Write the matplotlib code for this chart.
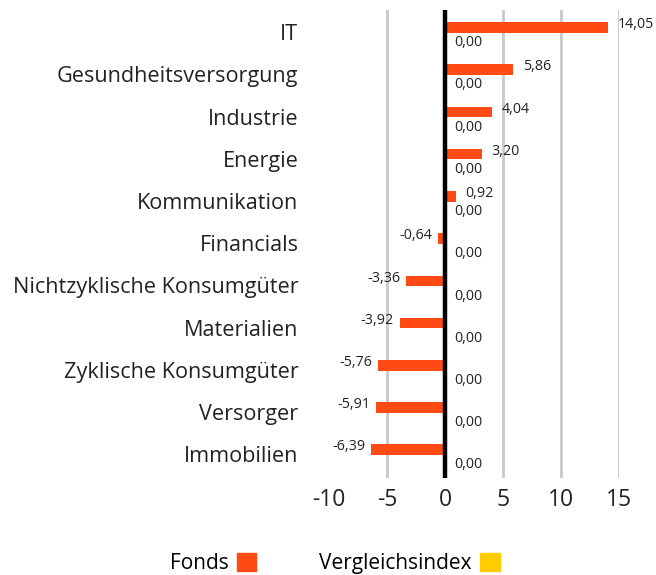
import numpy as np
import matplotlib
matplotlib.use("Agg")
import matplotlib.pyplot as plt
import matplotlib.transforms as mtrans
from matplotlib.patches import Patch

categories = ["IT", "Gesundheitsversorgung", "Industrie", "Energie", "Kommunikation",
              "Financials", "Nichtzyklische Konsumgüter", "Materialien",
              "Zyklische Konsumgüter", "Versorger", "Immobilien"]
fonds = [14.05, 5.86, 4.04, 3.20, 0.92, -0.64, -3.36, -3.92, -5.76, -5.91, -6.39]
index = [0.00] * 11
series_names = ["Fonds", "Vergleichsindex"]
xticks = [-10, -5, 0, 5, 10, 15]

ORANGE = "#FF4A14"
YELLOW = "#FFCC00"
FONT = "Open Sans"

plt.rcParams["font.family"] = [FONT, "DejaVu Sans"]

fig = plt.figure(figsize=(6.56, 5.75), dpi=100)
ax = fig.add_axes([0.5015, 0.168, 0.442, 0.815])

y = np.arange(len(categories))
off = 0.18
ax.barh(y - off, fonds, height=0.25, color=ORANGE, zorder=3)
ax.barh(y + off, index, height=0.25, color=YELLOW, zorder=3)

for yi, v in zip(y, fonds):
    lbl = f"{v:.2f}".replace(".", ",")
    if v >= 0:
        ax.annotate(lbl, (v, yi - off), xytext=(7, 2), textcoords="offset points",
                    ha="left", va="center", fontsize=10.3, color="#222222")
    else:
        ax.annotate(lbl, (v, yi - off), xytext=(-4, 2), textcoords="offset points",
                    ha="right", va="center", fontsize=10.3, color="#222222")
for yi, v in zip(y, index):
    lbl = f"{v:.2f}".replace(".", ",")
    ax.annotate(lbl, (v, yi + off), xytext=(7, 0), textcoords="offset points",
                ha="left", va="center", fontsize=10.3, color="#222222")

ax.set_xlim(-10, 15)
ax.set_ylim(10.5, -0.6)
ax.set_xticks(xticks)
ax.set_xticklabels([str(t) for t in xticks], fontsize=16.5, color="#222222")
ax.set_yticks(y)
ax.set_yticklabels(categories, fontsize=15.6, color="#222222")
ax.tick_params(axis="x", length=0, pad=7)
ax.tick_params(axis="y", length=0, pad=22)

# category labels sit a little above the row centre
shift = mtrans.ScaledTranslation(0, 3 / 100, fig.dpi_scale_trans)
for lab in ax.get_yticklabels():
    lab.set_transform(lab.get_transform() + shift)

for t in xticks:
    if t == 0:
        ax.axvline(0, color="black", linewidth=3.2, zorder=4)
    elif t != -10:
        ax.axvline(t, color="#c8c8c8", linewidth=2, zorder=1)

for s in ax.spines.values():
    s.set_visible(False)

handles = [Patch(color=ORANGE), Patch(color=YELLOW)]
fig.legend(handles, series_names, loc="center", bbox_to_anchor=(0.51, 0.02),
           ncol=2, frameon=False, markerfirst=False, fontsize=15,
           handlelength=0.95, handleheight=0.95, handletextpad=0.4, columnspacing=3.0)

fig.savefig("out.png", dpi=100)
